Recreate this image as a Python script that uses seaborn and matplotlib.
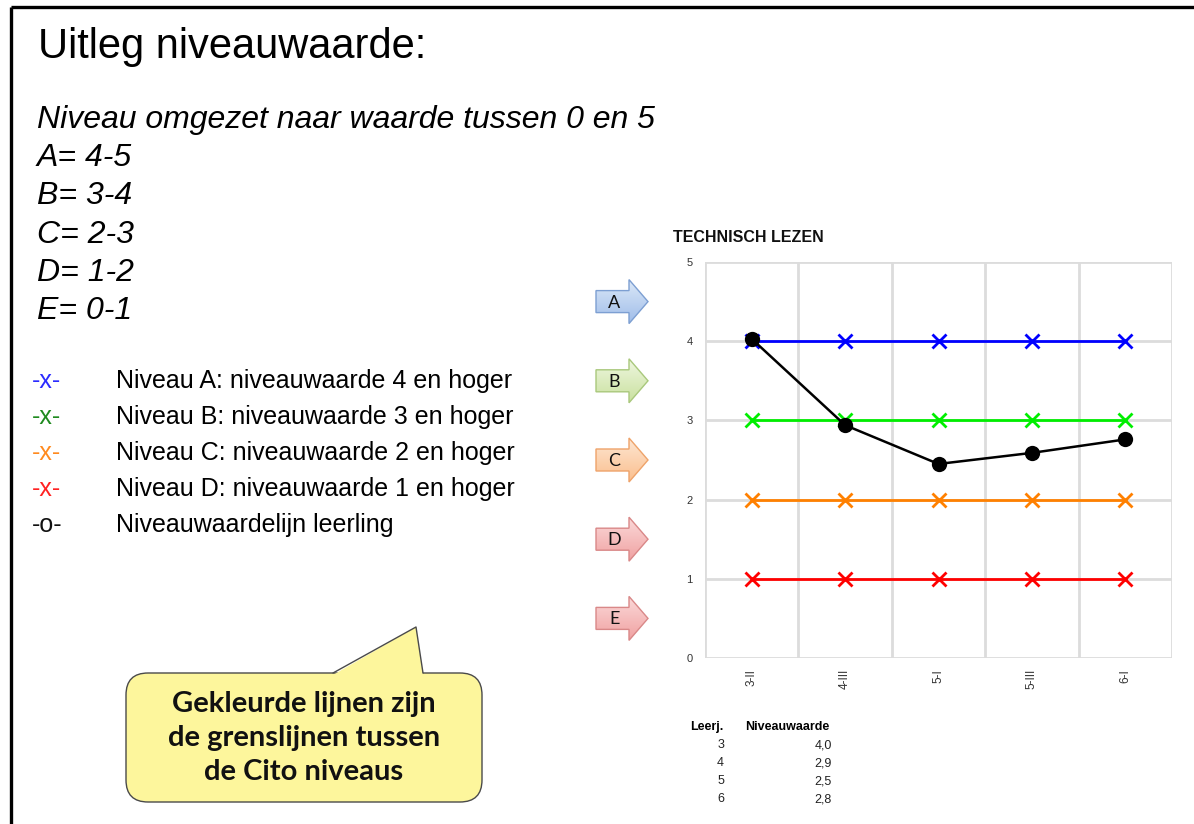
import numpy as np
import pandas as pd
import matplotlib
matplotlib.use("Agg")
import matplotlib.pyplot as plt
import matplotlib.patches as mpatches
import seaborn as sns

# toetsmomenten en niveaugrenzen
toetsen = ["3-II", "4-III", "5-I", "5-III", "6-I"]
niveau_a = [4, 4, 4, 4, 4]
niveau_b = [3, 3, 3, 3, 3]
niveau_c = [2, 2, 2, 2, 2]
niveau_d = [1, 1, 1, 1, 1]
leerling = [4.03, 2.94, 2.45, 2.59, 2.76]

# tabel onder de grafiek
leerjaren = [3, 4, 5, 6]
niveauwaarden = [4.0, 2.9, 2.5, 2.8]

# pijlen naast de grafiek
pijl_letters = ["A", "B", "C", "D", "E"]
pijl_niveau = [4.5, 3.5, 2.5, 1.5, 0.5]
pijl_kleuren = [("#dce8f8", "#9fbde9", "#7d9fd2"),
                ("#eef6df", "#c9e19e", "#a9c87c"),
                ("#fde6d2", "#fbbf8e", "#eea36a"),
                ("#fbd9d9", "#f0a2a2", "#d98888"),
                ("#fbd9d9", "#f0a2a2", "#d98888")]

legenda_tekens = ["-x-", "-x-", "-x-", "-x-", "-o-"]
legenda_kleuren = ["#2b2bff", "#1f8a1f", "#ff8a1f", "#ff2222", "#111111"]
legenda_teksten = ["Niveau A: niveauwaarde 4 en hoger",
                   "Niveau B: niveauwaarde 3 en hoger",
                   "Niveau C: niveauwaarde 2 en hoger",
                   "Niveau D: niveauwaarde 1 en hoger",
                   "Niveauwaardelijn leerling"]

uitleg = ["Niveau omgezet naar waarde tussen 0 en 5",
          "A= 4-5", "B= 3-4", "C= 2-3", "D= 1-2", "E= 0-1"]

sns.set_style("white")
plt.rcParams['font.family'] = ['Liberation Sans', 'DejaVu Sans']
plt.rcParams['text.color'] = 'black'

W, H = 1194, 824
fig = plt.figure(figsize=(W / 100, H / 100), dpi=100)

# achtergrond-assen in pixelcoordinaten voor tekst en vormen
bg = fig.add_axes([0, 0, 1, 1])
bg.set_xlim(0, W)
bg.set_ylim(H, 0)
bg.axis('off')
bg.patch.set_alpha(0)

# kader
bg.plot([11, W], [7, 7], color='black', lw=2.4, solid_capstyle='butt')
bg.plot([11, 11], [7, H], color='black', lw=2.4, solid_capstyle='butt')

bg.text(38, 47, "Uitleg niveauwaarde:", fontsize=30, va='center', ha='left')
for i, regel in enumerate(uitleg):
    bg.text(37, 120 + i * 38.2, regel, fontsize=23, style='italic',
            va='center', ha='left')

for i in range(len(legenda_teksten)):
    y = 381 + i * 36
    bg.text(32, y, legenda_tekens[i], fontsize=18, color=legenda_kleuren[i],
            va='center', ha='left')
    bg.text(116, y, legenda_teksten[i], fontsize=18, va='center', ha='left')

# grafiek
ax = fig.add_axes([705 / W, 1 - 658 / H, (1172 - 705) / W, (658 - 262) / H])
reeksen = [(niveau_a, "#0000ff"), (niveau_b, "#00ee00"),
           (niveau_c, "#ff8000"), (niveau_d, "#ff0000")]
for waarden, kleur in reeksen:
    sns.lineplot(x=toetsen, y=waarden, ax=ax, color=kleur, lw=2, marker='x',
                 markersize=10, markeredgewidth=2, markeredgecolor=kleur,
                 sort=False)
sns.lineplot(x=toetsen, y=leerling, ax=ax, color='black', lw=1.8, marker='o',
             markersize=11, markeredgewidth=0, sort=False)

ax.set_xlim(-0.5, len(toetsen) - 0.5)
ax.set_ylim(0, 5)
ax.set_yticks(range(6))
ax.set_xticks(range(len(toetsen)))
ax.set_xticklabels(toetsen, rotation=90, fontsize=8.5, color='#333333')
ax.set_xticks(np.arange(-0.5, len(toetsen), 1), minor=True)
ax.tick_params(axis='x', which='major', length=0, pad=8)
ax.tick_params(axis='x', which='minor', length=9, width=2, color='#dcdcdc')
ax.tick_params(axis='y', length=7, width=2, color='#dcdcdc', labelsize=8,
               labelcolor='#333333', pad=2)
ax.grid(False)
ax.grid(True, axis='y', which='major', color='#dcdcdc', lw=2)
ax.grid(True, axis='x', which='minor', color='#dcdcdc', lw=2)
ax.set_axisbelow(True)
for s in ax.spines.values():
    s.set_visible(False)
ax.set_xlabel("")
ax.set_ylabel("")

bg.text(673, 237, "TECHNISCH LEZEN", fontsize=11.5, fontweight='bold',
        va='center', ha='left', color='#111111')

# tabel
bg.text(690, 727, "Leerj.", fontsize=9, fontweight='bold', va='center')
bg.text(745, 727, "Niveauwaarde", fontsize=9, fontweight='bold', va='center')
for i, (lj, nw) in enumerate(zip(leerjaren, niveauwaarden)):
    y = 745 + i * 18
    bg.text(724, y, str(lj), fontsize=9, ha='right', va='center', color='#222222')
    bg.text(832, y, f"{nw:.1f}".replace('.', ','), fontsize=9, ha='right',
            va='center', color='#222222')

# pijlen
fig.canvas.draw()
for letter, niveau, (licht, mid, rand) in zip(pijl_letters, pijl_niveau, pijl_kleuren):
    yc = H - ax.transData.transform((0, niveau))[1]
    x0, xb, xt = 596, 629, 648
    pts = [(x0, yc - 11), (xb, yc - 11), (xb, yc - 22), (xt, yc),
           (xb, yc + 22), (xb, yc + 11), (x0, yc + 11)]
    poly = mpatches.Polygon(pts, closed=True, facecolor='none', edgecolor=rand,
                            lw=1, zorder=3)
    bg.add_patch(poly)
    grad = np.linspace(0, 1, 50).reshape(-1, 1)
    cmap = matplotlib.colors.LinearSegmentedColormap.from_list("g", [licht, mid])
    im = bg.imshow(grad, cmap=cmap, extent=[x0, xt, yc + 22, yc - 22],
                   aspect='auto', zorder=2, interpolation='bilinear')
    im.set_clip_path(poly)
    bg.text((x0 + xb) / 2 + 2, yc + 1, letter, fontsize=13, family=['Lato', 'DejaVu Sans'],
            ha='center', va='center', color='#111111', zorder=4)
bg.set_xlim(0, W)
bg.set_ylim(H, 0)

# tekstballon
geel = "#fdf69c"
ballon = mpatches.FancyBboxPatch((126, 673), 356, 129,
                                 boxstyle="round,pad=0,rounding_size=22",
                                 facecolor=geel, edgecolor='#4a4a4a', lw=1, zorder=2)
bg.add_patch(ballon)
bg.add_patch(mpatches.Polygon([(333, 675), (416, 627), (423, 675)], closed=True,
                              facecolor=geel, edgecolor='none', zorder=3))
bg.plot([333, 416, 423], [673, 627, 673], color='#4a4a4a', lw=1, zorder=4)
for i, regel in enumerate(["Gekleurde lijnen zijn", "de grenslijnen tussen",
                           "de Cito niveaus"]):
    bg.text(304, 704 + i * 34, regel, fontsize=21, fontweight='bold',
            family=['Lato', 'DejaVu Sans'], ha='center', va='center',
            color='#111111', zorder=5)

fig.savefig("out.png", dpi=100)
